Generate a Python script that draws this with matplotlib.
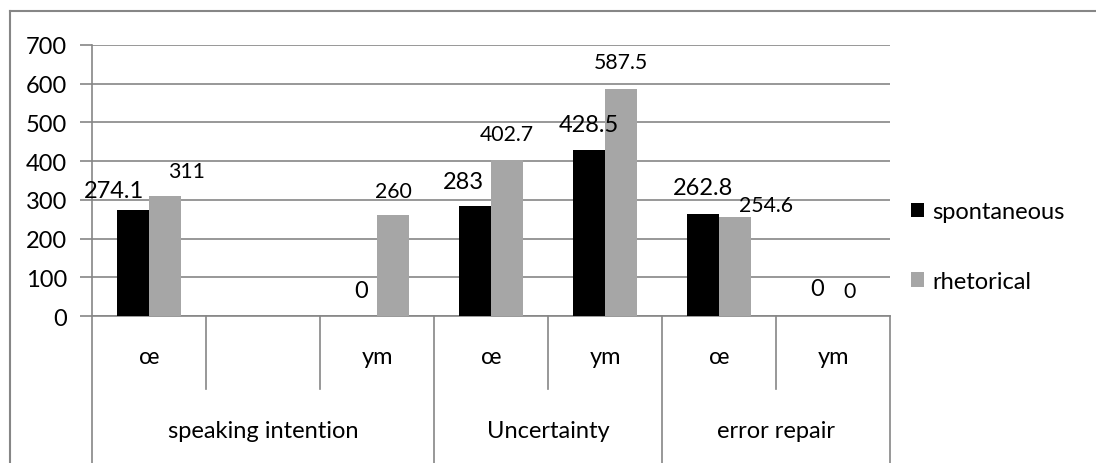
import numpy as np
import matplotlib.pyplot as plt
from matplotlib.lines import Line2D

plt.rcParams['font.family'] = ['Lato', 'DejaVu Sans']

# data
sub_labels = ['œ', '', 'ym', 'œ', 'ym', 'œ', 'ym']
groups = ['speaking intention', 'Uncertainty', 'error repair']
group_sizes = [3, 2, 2]
spontaneous = [274.1, np.nan, 0, 283, 428.5, 262.8, 0]
rhetorical = [311, np.nan, 260, 402.7, 587.5, 254.6, 0]

# label nudges in pixels (dx, dy above bar top)
spont_off = [(-19, 19), None, (0, 25), (-11, 25), (0, 26), (0, 27), (0, 27)]
rhet_off = [(21, 25), None, (0, 24), (0, 26), (0, 27), (31, 12), (0, 25)]

W, H = 1096, 464
grid_c = '#868686'
fs = 17
fig = plt.figure(figsize=(W / 100, H / 100), dpi=100)
ax = fig.add_axes([92 / W, 1 - 317 / H, (890 - 92) / W, (317 - 46) / H])

n = len(sub_labels)
x = np.arange(n)
bw = 0.285
b1 = ax.bar(x - bw / 2, spontaneous, bw, color='black', label='spontaneous', zorder=3)
b2 = ax.bar(x + bw / 2, rhetorical, bw, color='#a6a6a6', label='rhetorical', zorder=3)

ax.set_xlim(-0.5, n - 0.5)
ax.set_ylim(0, 700)
ax.set_yticks(range(0, 701, 100))
ax.yaxis.grid(True, color=grid_c, lw=1.2)
ax.set_axisbelow(True)
ax.tick_params(axis='y', length=9, width=1.2, color=grid_c, labelsize=fs, pad=9)
ax.set_xticks([])
for s in ['top', 'right']:
    ax.spines[s].set_visible(False)
for s in ['left', 'bottom']:
    ax.spines[s].set_color(grid_c)
    ax.spines[s].set_linewidth(1.2)

px = 0.72  # points per pixel at 100 dpi


def put_labels(vals, offs, xs, size):
    for xi, v, o in zip(xs, vals, offs):
        if np.isnan(v) or o is None:
            continue
        ax.annotate('{:g}'.format(v), (xi, v), xytext=(o[0] * px, o[1] * px),
                    textcoords='offset points', ha='center', va='center',
                    fontsize=size, zorder=4)


put_labels(spontaneous, spont_off, x - bw / 2, fs)
put_labels(rhetorical, rhet_off, x + bw / 2, 15.3)

# two-level category axis
tr = ax.get_xaxis_transform()
ax_h = 317 - 46
y_sub = -(390 - 317) / ax_h
y_grp = -(470 - 317) / ax_h
edges = np.cumsum([0] + group_sizes) - 0.5
for b in np.arange(n + 1) - 0.5:
    y_end = y_grp if b in edges else y_sub
    ax.plot([b, b], [0, y_end], color=grid_c, lw=1.2, transform=tr, clip_on=False)
for xi, lab in zip(x, sub_labels):
    ax.text(xi, -(358 - 317) / ax_h, lab, transform=tr, ha='center', va='center', fontsize=fs)
for g, lo, hi in zip(groups, edges[:-1], edges[1:]):
    ax.text((lo + hi) / 2, -(431 - 317) / ax_h, g, transform=tr, ha='center', va='center', fontsize=fs)

# legend
ax.legend(handles=[b1, b2], loc='center left', bbox_to_anchor=(911 / W, 1 - 247.5 / H),
          bbox_transform=fig.transFigure, frameon=False, fontsize=fs,
          handlelength=0.56, handleheight=0.56, handletextpad=0.34,
          labelspacing=2.05, borderpad=0, borderaxespad=0)

# chart border (left and top edges)
fig.add_artist(Line2D([10 / W, 10 / W], [0, 1 - 12 / H], color=grid_c, lw=1.5))
fig.add_artist(Line2D([10 / W, 1], [1 - 12 / H, 1 - 12 / H], color=grid_c, lw=1.5))

fig.savefig('out.png', dpi=100)
